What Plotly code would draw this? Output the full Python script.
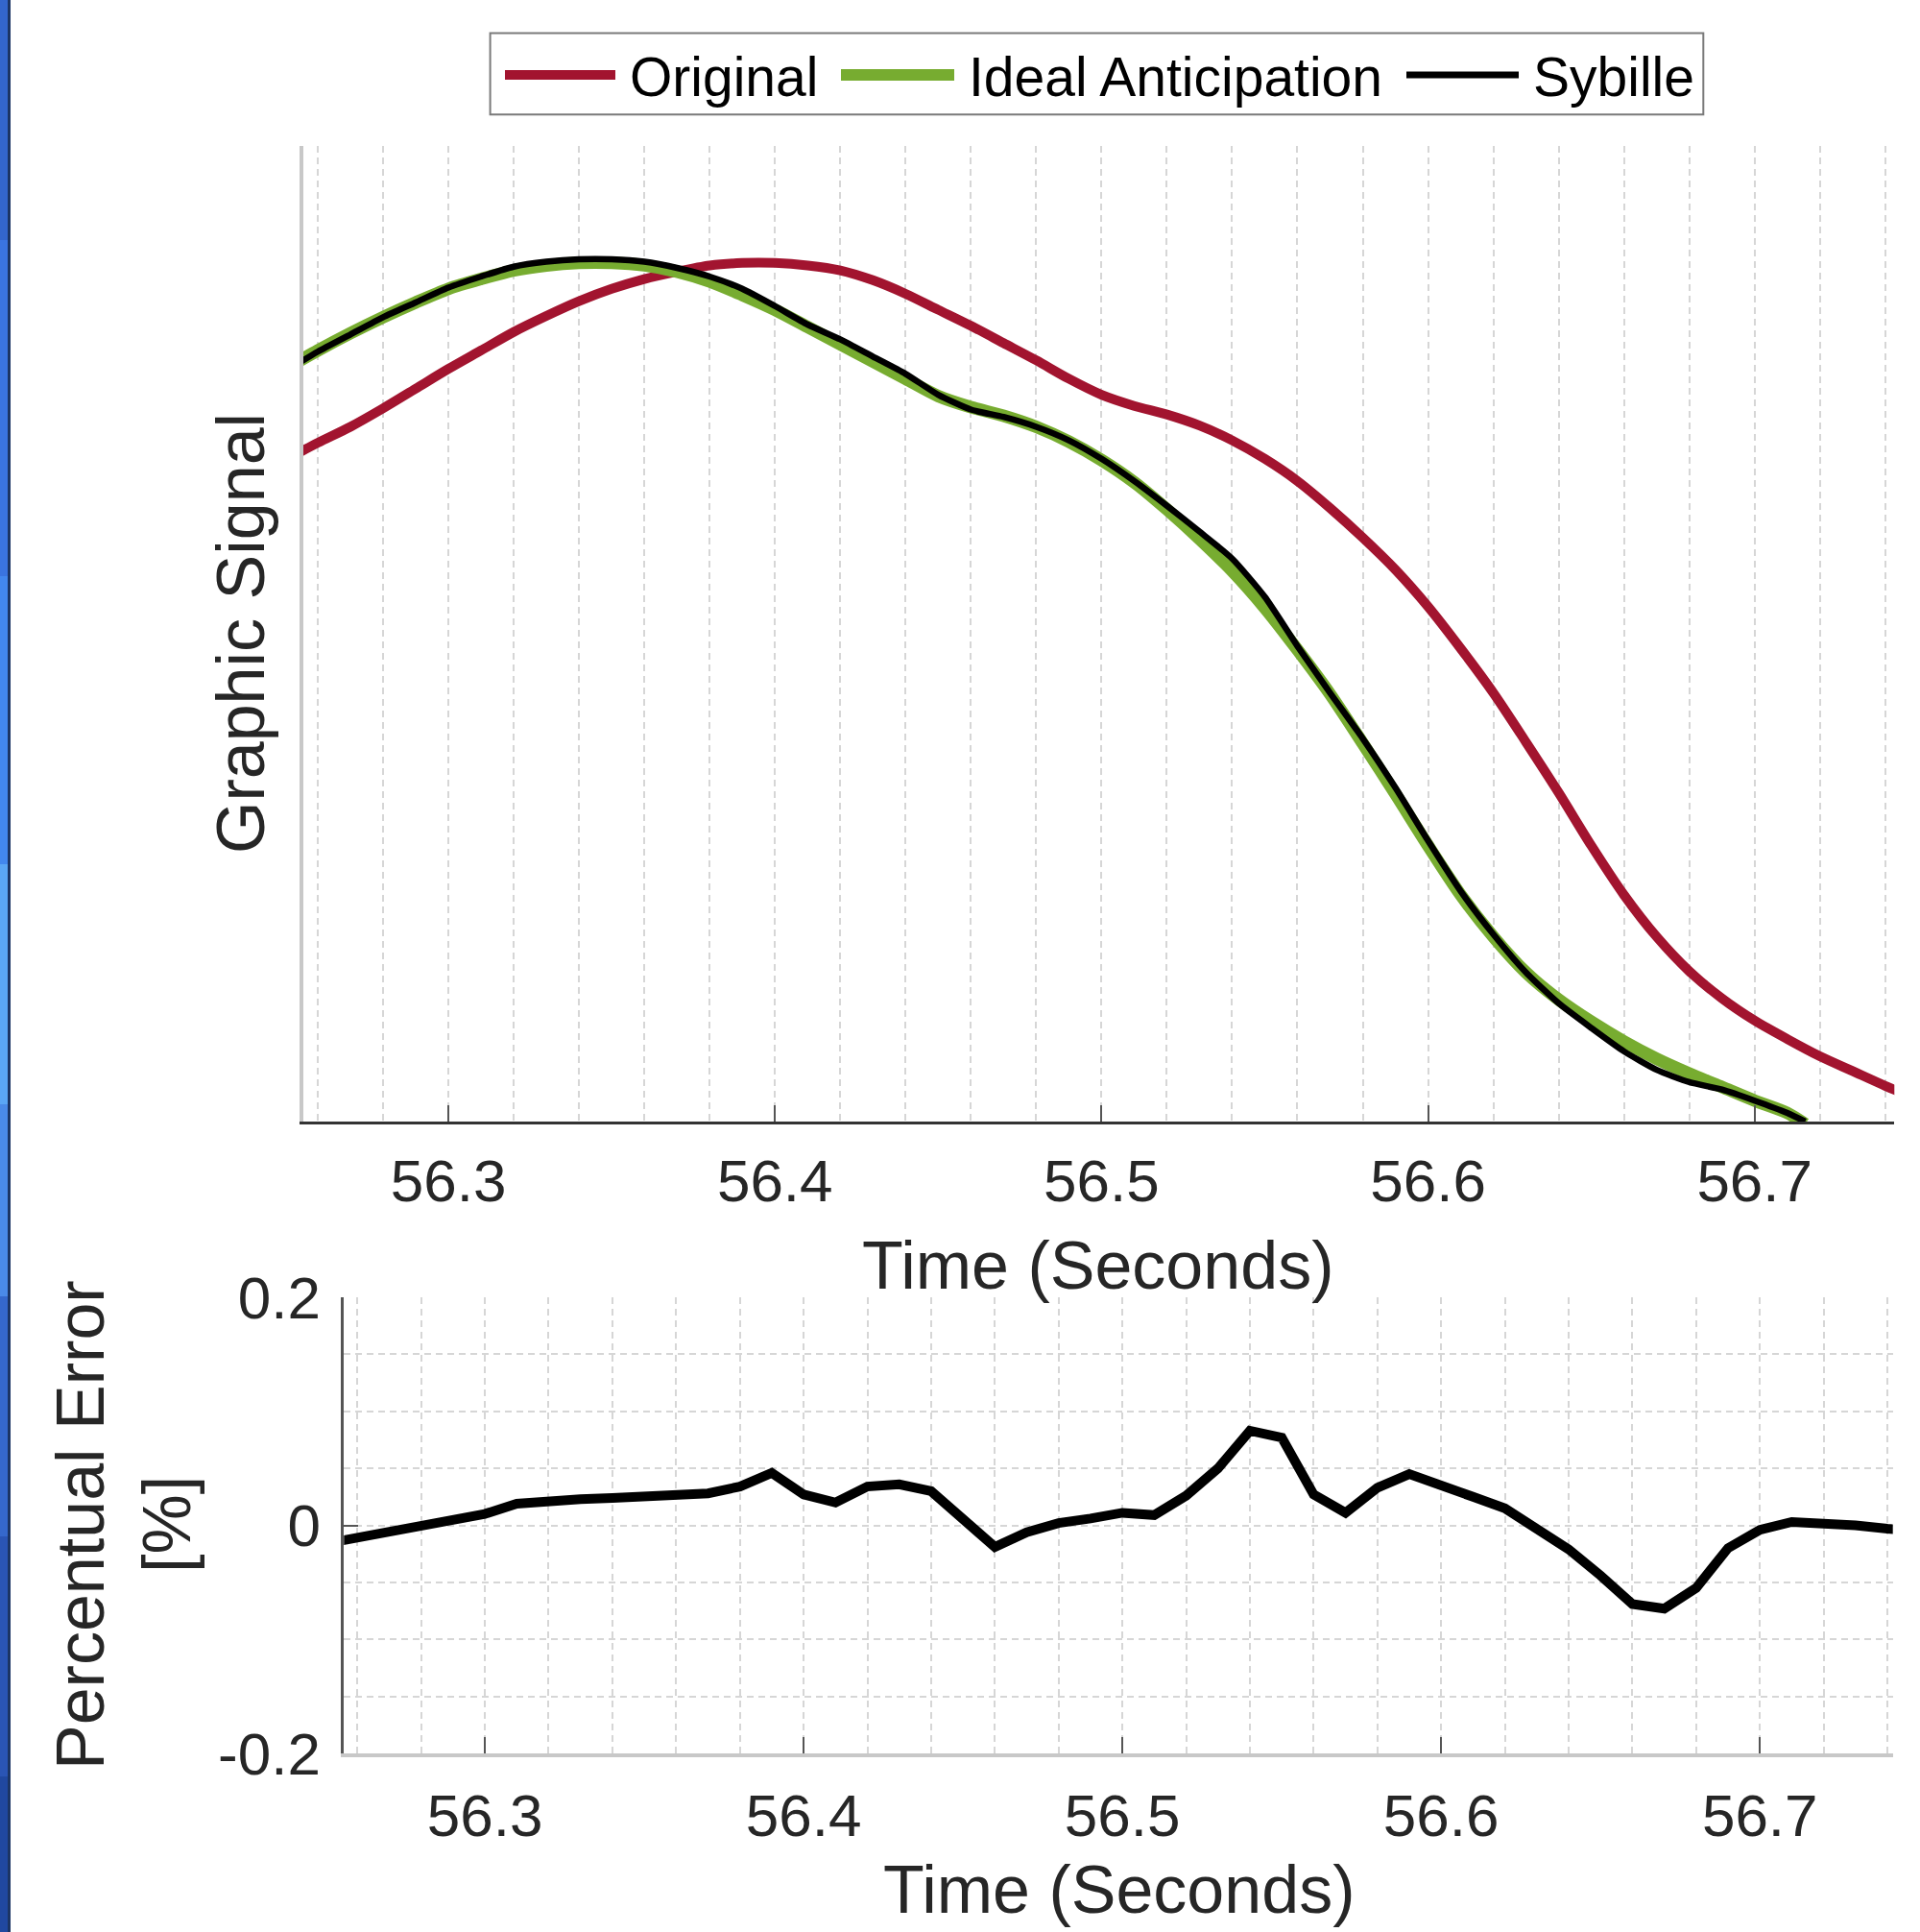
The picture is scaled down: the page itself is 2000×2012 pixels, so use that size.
import plotly.graph_objects as go

W, H = 2000, 2012

# ---------------- data ----------------
time_orig = [56.25, 56.26, 56.27, 56.28, 56.29, 56.30, 56.31, 56.32, 56.33, 56.34,
             56.35, 56.36, 56.37, 56.38, 56.39, 56.40, 56.41, 56.42, 56.43, 56.44,
             56.45, 56.46, 56.47, 56.48, 56.49, 56.50, 56.51, 56.52, 56.53, 56.54,
             56.55, 56.56, 56.57, 56.58, 56.59, 56.60, 56.61, 56.62, 56.63, 56.64,
             56.65, 56.66, 56.67, 56.68, 56.69, 56.70, 56.71, 56.72, 56.73, 56.74,
             56.75]
original = [537, 551, 564, 579, 595, 611, 626, 641, 654, 666,
            676, 684, 690, 695, 697, 697, 695, 691, 683, 672,
            659, 646, 632, 618, 603, 590, 581, 574, 565, 553,
            538, 520, 498, 474, 448, 418, 384, 348, 308, 267,
            224, 184, 150, 122, 100, 82, 67, 53, 41, 29,
            18]

time_pred = [56.25, 56.26, 56.27, 56.28, 56.29, 56.30, 56.31, 56.32, 56.33, 56.34,
             56.35, 56.36, 56.37, 56.38, 56.39, 56.40, 56.41, 56.42, 56.43, 56.44,
             56.45, 56.46, 56.47, 56.48, 56.49, 56.50, 56.51, 56.52, 56.53, 56.54,
             56.55, 56.56, 56.57, 56.58, 56.59, 56.60, 56.61, 56.62, 56.63, 56.64,
             56.65, 56.66, 56.67, 56.68, 56.69, 56.70, 56.71, 56.7155]
ideal = [611, 626, 640, 653, 665, 676, 684, 691, 695, 697,
         697, 695, 690, 682, 671, 659, 645, 631, 617, 603,
         589, 580, 573, 564, 552, 537, 519, 497, 473, 447,
         417, 383, 347, 307, 266, 224, 184, 150, 121, 99,
         81, 65, 51, 39, 28, 17, 7, -2]
sybille = [609, 625, 639, 653, 665, 677, 686, 694, 698, 700,
           700, 698, 693, 686, 676, 662, 647, 635, 621, 607,
           590, 578, 572, 564, 553, 538, 520, 500, 479, 457,
           426, 386, 348, 311, 271, 228, 187, 152, 121, 96,
           76, 57, 42, 32, 26, 17, 7, 0]

time_err = time_orig
error_pct = [-0.016, -0.011, -0.006, -0.001, 0.004, 0.010, 0.019, 0.022, 0.023, 0.024,
             0.025, 0.026, 0.028, 0.034, 0.046, 0.027, 0.020, 0.034, 0.036, 0.030,
             0.005, -0.019, -0.006, 0.002, 0.006, 0.011, 0.009, 0.026, 0.050, 0.083,
             0.077, 0.027, 0.011, 0.033, 0.045, 0.036, 0.025, 0.015, -0.003, -0.021,
             -0.044, -0.069, -0.073, -0.055, -0.020, -0.004, 0.003, 0.002, 0.000, -0.003,
             -0.005]

x_tick_vals = [56.3, 56.4, 56.5, 56.6, 56.7]
x_tick_text = ["56.3", "56.4", "56.5", "56.6", "56.7"]
err_tick_vals = [-0.2, 0, 0.2]
err_tick_text = ["-0.2", "0", "0.2"]

series_names = ["Original", "Ideal Anticipation", "Sybille"]
series_colors = ["#A2142F", "#77AC30", "#000000"]

# ---------------- helpers ----------------
def px(x):
    return x / W

def py(y):
    return 1 - y / H

FONT = "Liberation Sans, Arial, Helvetica, sans-serif"
TXT = "#262626"
GRID = "#d6d6d6"
DASH = "7px,5px"

fig = go.Figure()

fig.add_trace(go.Scatter(x=time_orig, y=original, mode="lines", name=series_names[0],
                         line=dict(color=series_colors[0], width=10, shape="spline", smoothing=0.8),
                         xaxis="x", yaxis="y", showlegend=False))
fig.add_trace(go.Scatter(x=time_pred, y=ideal, mode="lines", name=series_names[1],
                         line=dict(color=series_colors[1], width=13, shape="spline", smoothing=0.8),
                         xaxis="x", yaxis="y", showlegend=False))
fig.add_trace(go.Scatter(x=time_pred, y=sybille, mode="lines", name=series_names[2],
                         line=dict(color=series_colors[2], width=6.5, shape="spline", smoothing=0.6),
                         xaxis="x", yaxis="y", showlegend=False))
fig.add_trace(go.Scatter(x=time_err, y=error_pct, mode="lines", name="Percentual Error",
                         line=dict(color="#000000", width=10), xaxis="x2", yaxis="y2",
                         showlegend=False))

tickfont = dict(family=FONT, size=62, color=TXT)

fig.update_layout(
    template="none",
    width=W, height=H,
    margin=dict(l=0, r=0, t=0, b=0, autoexpand=False),
    paper_bgcolor="white", plot_bgcolor="white",
    showlegend=False,
    xaxis=dict(domain=[px(315.7), px(1973.3)], range=[56.2555, 56.7428], anchor="y",
               tickmode="array", tickvals=x_tick_vals, ticktext=x_tick_text,
               tickfont=tickfont, ticks="inside", ticklen=17, tickwidth=2, tickcolor="#555555",
               showline=True, linecolor="#333333", linewidth=3,
               showgrid=True, gridcolor=GRID, gridwidth=1.5, griddash=DASH,
               minor=dict(dtick=0.02, tick0=56.3, showgrid=True, gridcolor=GRID,
                          gridwidth=1.5, griddash=DASH, ticks=""),
               zeroline=False, automargin=False, ticklabelstandoff=6),
    yaxis=dict(domain=[py(1168), py(152)], range=[0, 792], anchor="x",
               showticklabels=False, ticks="", showgrid=False, zeroline=False,
               showline=True, linecolor="#c8c8c8", linewidth=4, automargin=False),
    xaxis2=dict(domain=[px(358.3), px(1971.7)], range=[56.2558, 56.7417], anchor="y2",
                tickmode="array", tickvals=x_tick_vals, ticktext=x_tick_text,
                tickfont=tickfont, ticks="inside", ticklen=17, tickwidth=2, tickcolor="#555555",
                showline=True, linecolor="#c8c8c8", linewidth=4,
                showgrid=True, gridcolor=GRID, gridwidth=1.5, griddash=DASH,
                minor=dict(dtick=0.02, tick0=56.3, showgrid=True, gridcolor=GRID,
                           gridwidth=1.5, griddash=DASH, ticks=""),
                zeroline=False, automargin=False, ticklabelstandoff=8),
    yaxis2=dict(domain=[py(1826), py(1351)], range=[-0.2, 0.2], anchor="x2",
                tickmode="array", tickvals=err_tick_vals, ticktext=err_tick_text,
                tickfont=tickfont, ticks="inside", ticklen=15, tickwidth=2, tickcolor="#555555",
                showline=True, linecolor="#555555", linewidth=3,
                showgrid=True, gridcolor=GRID, gridwidth=1.5, griddash=DASH,
                minor=dict(dtick=0.05, tick0=0, showgrid=True, gridcolor=GRID,
                           gridwidth=1.5, griddash=DASH, ticks=""),
                zeroline=False, automargin=False, ticklabelstandoff=9),
)

titlefont = dict(family=FONT, size=70, color=TXT)
annotations = [
    dict(text="Time (Seconds)", x=px(1143), y=py(1318), xref="paper", yref="paper",
         xanchor="center", yanchor="middle", showarrow=False, font=titlefont),
    dict(text="Time (Seconds)", x=px(1165), y=py(1968), xref="paper", yref="paper",
         xanchor="center", yanchor="middle", showarrow=False, font=titlefont),
    dict(text="Graphic Signal", x=px(251), y=py(660), xref="paper", yref="paper",
         xanchor="center", yanchor="middle", showarrow=False, font=titlefont, textangle=-90),
    dict(text="Percentual Error", x=px(84), y=py(1588), xref="paper", yref="paper",
         xanchor="center", yanchor="middle", showarrow=False, font=titlefont, textangle=-90),
    dict(text="[%]", x=px(174), y=py(1588), xref="paper", yref="paper",
         xanchor="center", yanchor="middle", showarrow=False, font=titlefont, textangle=-90),
]

# custom legend
legfont = dict(family=FONT, size=57, color="#000000")
leg_lines = [(526, 641), (876, 994), (1465, 1582)]
leg_text_x = [654, 1007, 1595]
leg_widths = [10, 12, 7]
shapes = [dict(type="rect", xref="paper", yref="paper",
               x0=px(510.6), x1=px(1774.3), y0=py(119.3), y1=py(34.6),
               line=dict(color="#7a7a7a", width=2), fillcolor="white", layer="above")]
for (x0, x1), name, col, lw, tx in zip(leg_lines, series_names, series_colors, leg_widths, leg_text_x):
    shapes.append(dict(type="line", xref="paper", yref="paper", x0=px(x0), x1=px(x1),
                       y0=py(78), y1=py(78), line=dict(color=col, width=lw), layer="above"))
    annotations.append(dict(text=name, x=px(tx), y=py(80), xref="paper", yref="paper",
                            xanchor="left", yanchor="middle", showarrow=False, font=legfont))

# window edge (blue border on the left)
edge_bands = [(0, 250, "#3366cc"), (250, 600, "#3a74e0"), (600, 900, "#4287ee"),
              (900, 1150, "#5aa6f5"), (1150, 1350, "#4a8ae8"), (1350, 1600, "#3568cc"),
              (1600, 1850, "#2a55b5"), (1850, 2012, "#2048a0")]
for y0, y1, c in edge_bands:
    shapes.append(dict(type="rect", xref="paper", yref="paper", x0=px(0), x1=px(9),
                       y0=py(y1), y1=py(y0), fillcolor=c, line=dict(width=0), layer="above"))
shapes.append(dict(type="line", xref="paper", yref="paper", x0=px(9.5), x1=px(9.5),
                   y0=py(2012), y1=py(0), line=dict(color="#1c3564", width=3), layer="above"))

fig.update_layout(annotations=annotations, shapes=shapes)

fig.write_html("out.html", config={"displayModeBar": False},
               post_script="document.body.style.margin='0px';")
